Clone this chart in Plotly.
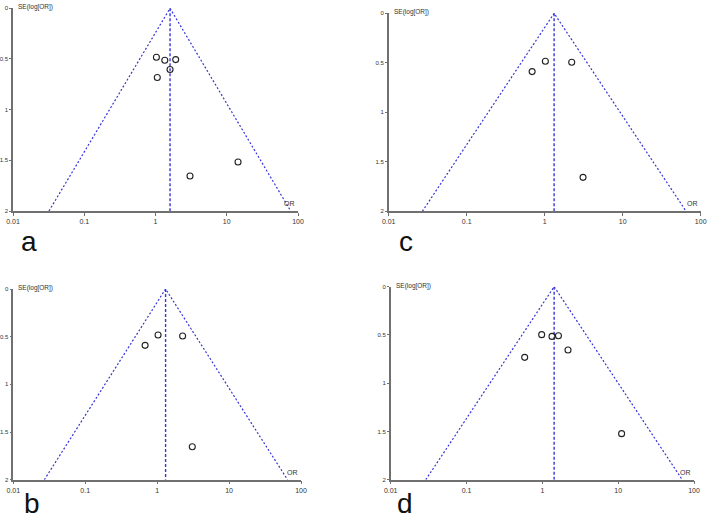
import plotly.graph_objects as go

# ---------------- data ----------------
panel_labels = ["a", "c", "b", "d"]

a_or = [1.03, 1.35, 1.92, 1.60, 1.06, 14.4, 3.05]
a_se = [0.483, 0.512, 0.506, 0.604, 0.683, 1.517, 1.655]
a_pooled = 1.60
a_funnel = [0.032, 79]

c_or = [1.02, 2.22, 0.69, 3.10]
c_se = [0.485, 0.495, 0.589, 1.657]
c_pooled = 1.32
c_funnel = [0.027, 65]

b_or = [1.03, 2.26, 0.68, 3.08]
b_se = [0.483, 0.493, 0.591, 1.654]
b_pooled = 1.31
b_funnel = [0.027, 65]

d_or = [0.98, 1.34, 1.63, 2.18, 0.585, 11.1]
d_se = [0.497, 0.515, 0.508, 0.656, 0.732, 1.523]
d_pooled = 1.43
d_funnel = [0.029, 70]

x_tick_vals = [0.01, 0.1, 1, 10, 100]
x_tick_text = ["0.01", "0.1", "1", "10", "100"]
y_tick_vals = [0, 0.5, 1, 1.5, 2]
y_tick_text = ["0", "0.5", "1", "1.5", "2"]
y_title = "SE(log[OR])"
x_title = "OR"

panels = [
    (a_or, a_se, a_pooled, a_funnel),
    (c_or, c_se, c_pooled, c_funnel),
    (b_or, b_se, b_pooled, b_funnel),
    (d_or, d_se, d_pooled, d_funnel),
]

# ---------------- layout geometry (pixels) ----------------
W, H = 708, 519
# (x_left, x_right, y_top, y_bottom) of axes box in pixels
boxes = [
    (13.0, 298.0, 8.3, 211.0),
    (388.7, 700.7, 13.3, 211.3),
    (13.3, 301.0, 289.0, 479.7),
    (390.7, 694.0, 286.7, 479.7),
]
letter_pos = [(20, 241), (398, 241), (23, 503), (396, 503)]

FUNNEL_COLOR = "#3535d8"
AXIS_COLOR = "#707070"
FONT = "Liberation Sans, Arial, sans-serif"

fig = go.Figure()
annotations = []

for i, ((ors, ses, pooled, funnel), box) in enumerate(zip(panels, boxes)):
    n = i + 1
    xa = "x" if n == 1 else f"x{n}"
    ya = "y" if n == 1 else f"y{n}"
    # funnel lines
    fig.add_trace(go.Scatter(
        x=[funnel[0], pooled, funnel[1]], y=[2, 0, 2], mode="lines",
        line=dict(color=FUNNEL_COLOR, width=1.2, dash="2px,2px"),
        xaxis=xa, yaxis=ya, showlegend=False, hoverinfo="skip"))
    fig.add_trace(go.Scatter(
        x=[pooled, pooled], y=[0, 2], mode="lines",
        line=dict(color=FUNNEL_COLOR, width=1.4, dash="3px,2px"),
        xaxis=xa, yaxis=ya, showlegend=False, hoverinfo="skip"))
    # studies
    fig.add_trace(go.Scatter(
        x=ors, y=ses, mode="markers",
        marker=dict(symbol="circle-open", size=6, color="#222222",
                    line=dict(width=1.1, color="#222222")),
        xaxis=xa, yaxis=ya, showlegend=False))

    xl, xr, yt, yb = box
    xdom = [xl / W, xr / W]
    ydom = [1 - yb / H, 1 - yt / H]
    axis_common = dict(showgrid=False, zeroline=False, showline=True,
                       linecolor=AXIS_COLOR, linewidth=1.5, ticks="outside",
                       tickwidth=1, tickcolor=AXIS_COLOR,
                       automargin=False, fixedrange=True)
    xkey = "xaxis" if n == 1 else f"xaxis{n}"
    ykey = "yaxis" if n == 1 else f"yaxis{n}"
    fig.update_layout(**{
        xkey: dict(type="log", range=[-2, 2], domain=xdom, anchor=ya,
                   ticklen=3,
                   tickfont=dict(size=7, color="#333333", family=FONT),
                   tickvals=x_tick_vals, ticktext=x_tick_text, **axis_common),
        ykey: dict(range=[2, 0], domain=ydom, anchor=xa, ticklen=2,
                   tickfont=dict(size=6, color="#333333", family=FONT),
                   tickvals=y_tick_vals, ticktext=y_tick_text, **axis_common),
    })
    annotations.append(dict(
        text=y_title, xref="paper", yref="paper",
        x=(xl + 3) / W, y=1 - (yt - 1) / H, xanchor="left", yanchor="middle",
        showarrow=False, font=dict(size=6.5, color="#333333", family=FONT)))
    annotations.append(dict(
        text=x_title, xref="paper", yref="paper",
        x=(xr - 1) / W, y=1 - (yb - 2) / H, xanchor="right", yanchor="bottom",
        showarrow=False, font=dict(size=7, color="#333333", family=FONT)))
    lx, ly = letter_pos[i]
    annotations.append(dict(
        text=panel_labels[i], xref="paper", yref="paper",
        x=lx / W, y=1 - ly / H, xanchor="left", yanchor="middle",
        showarrow=False, borderpad=0,
        font=dict(size=28, color="#111111", family=FONT)))

fig.update_layout(
    width=W, height=H, margin=dict(l=0, r=0, t=0, b=0),
    paper_bgcolor="white", plot_bgcolor="white",
    annotations=annotations, showlegend=False,
)

fig.write_html("out.html")
